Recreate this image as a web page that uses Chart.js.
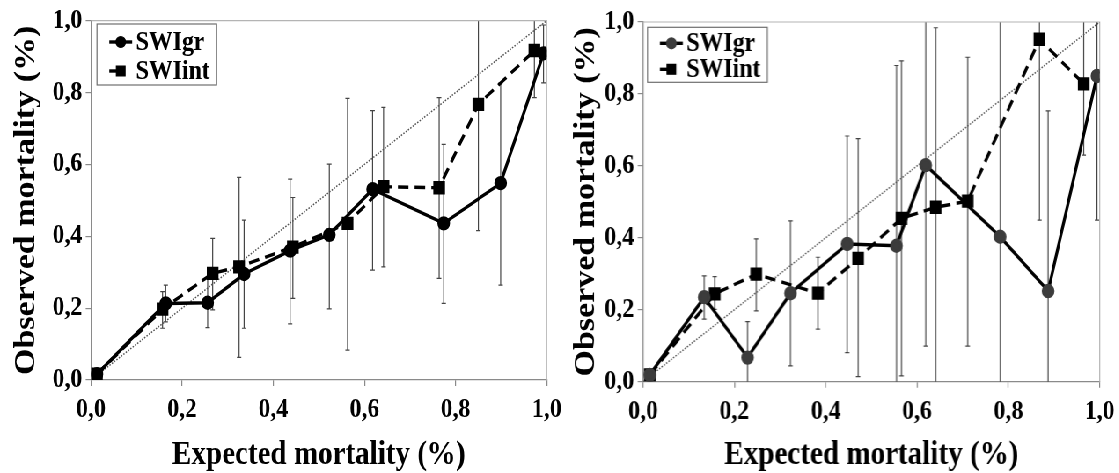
<!DOCTYPE html>
<html>
<head>
<meta charset="utf-8">
<script src="https://cdn.jsdelivr.net/npm/chart.js@4.4.1/dist/chart.umd.min.js"></script>
<style>
  html, body { margin: 0; padding: 0; background: #fff; overflow: hidden; }
  /* the figure is drawn wide and condensed horizontally as one piece */
  #stage { position: absolute; left: 0; top: 0; width: 1271.6px; height: 473px;
           transform: scaleX(0.88); transform-origin: 0 0; }
  .panel { position: absolute; top: 0; height: 473px; }
  #p1 { left: 0; width: 680px; }
  #p2 { left: 635.8px; width: 635.8px; }
</style>
</head>
<body>
<div id="stage">
  <div class="panel" id="p1"><canvas id="c1"></canvas></div>
  <div class="panel" id="p2"><canvas id="c2"></canvas></div>
</div>
<script>
// ---- shared labels ----
const seriesNames = ['SWIgr', 'SWIint'];
const tickLabels = ['0,0', '0,2', '0,4', '0,6', '0,8', '1,0'];
const xTitle = 'Expected mortality (%)';
const yTitle = 'Observed mortality (%)';
const identityLine = [0, 1];

// ---- left panel ----
const leftGrX    = [0.013, 0.164, 0.256, 0.336, 0.437, 0.523, 0.618, 0.774, 0.899, 0.993];
const leftGrY    = [0.016, 0.213, 0.215, 0.295, 0.360, 0.404, 0.531, 0.436, 0.548, 0.909];
const leftGrLow  = [null,  0.162, 0.146, 0.144, 0.156, 0.198, 0.306, 0.213, 0.264, 0.827];
const leftGrHigh = [null,  0.264, 0.284, 0.445, 0.559, 0.601, 0.750, 0.656, 0.827, 0.988];

const leftIntX    = [0.013, 0.157, 0.267, 0.325, 0.443, 0.563, 0.642, 0.764, 0.850, 0.973];
const leftIntY    = [0.016, 0.197, 0.297, 0.315, 0.370, 0.436, 0.538, 0.535, 0.767, 0.917];
const leftIntLow  = [null,  0.144, 0.195, 0.063, 0.227, 0.083, 0.315, 0.283, 0.416, 0.786];
const leftIntHigh = [null,  0.246, 0.394, 0.564, 0.508, 0.784, 0.759, 0.786, 1.118, 1.048];

// ---- right panel ----
const rightGrX    = [0.015, 0.134, 0.229, 0.323, 0.447, 0.555, 0.619, 0.782, 0.887, 0.994];
const rightGrY    = [0.019, 0.235, 0.067, 0.246, 0.383, 0.378, 0.602, 0.403, 0.252, 0.850];
const rightGrLow  = [null,  0.174, -0.033, 0.044, 0.081, -0.120, 0.099, -0.247, -0.250, 0.449];
const rightGrHigh = [null,  0.294, 0.167, 0.447, 0.683, 0.879, 1.105, 1.053, 0.753, 1.250];

const rightIntX    = [0.015, 0.157, 0.248, 0.383, 0.471, 0.566, 0.641, 0.711, 0.868, 0.965];
const rightIntY    = [0.019, 0.244, 0.299, 0.246, 0.343, 0.454, 0.485, 0.502, 0.952, 0.828];
const rightIntLow  = [null,  0.201, 0.197, 0.146, 0.014, 0.016, -0.015, 0.099, 0.449, 0.630];
const rightIntHigh = [null,  0.292, 0.397, 0.346, 0.676, 0.892, 0.984, 0.902, 1.455, 1.026];

const SERIF = "'Liberation Serif', 'Times New Roman', serif";

function pts(xs, ys) { return xs.map((x, i) => ({ x: x, y: ys[i] })); }

// vertical error bars, clipped to the plotting area
const errorBarPlugin = {
  id: 'errorBars',
  beforeDatasetsDraw(chart) {
    const { ctx, chartArea: a, scales: { x, y } } = chart;
    ctx.save();
    ctx.beginPath();
    ctx.rect(a.left - 3, a.top, a.right - a.left + 6, a.bottom - a.top);
    ctx.clip();
    ctx.strokeStyle = '#444';
    ctx.lineWidth = 1.2;
    chart.data.datasets.forEach(ds => {
      if (!ds.errLow) return;
      ds.data.forEach((p, i) => {
        const lo = ds.errLow[i], hi = ds.errHigh[i];
        if (lo == null || hi == null) return;
        const px = x.getPixelForValue(p.x);
        const yl = y.getPixelForValue(lo), yh = y.getPixelForValue(hi);
        ctx.beginPath();
        ctx.moveTo(px, yl); ctx.lineTo(px, yh);
        ctx.moveTo(px - 2.5, yl); ctx.lineTo(px + 2.5, yl);
        ctx.moveTo(px - 2.5, yh); ctx.lineTo(px + 2.5, yh);
        ctx.stroke();
      });
    });
    ctx.restore();
    // light frame on the top and right of the plotting area
    ctx.save();
    ctx.strokeStyle = '#b4b4b4';
    ctx.lineWidth = 1.2;
    ctx.beginPath();
    ctx.moveTo(a.left, a.top); ctx.lineTo(a.right, a.top); ctx.lineTo(a.right, a.bottom);
    ctx.stroke();
    ctx.restore();
  }
};

// boxed legend inside the plotting area: line sample, marker, label
const boxLegendPlugin = {
  id: 'boxLegend',
  afterDraw(chart, args, opts) {
    const { ctx, chartArea: a } = chart;
    const bx = a.left + opts.dx, by = a.top + opts.dy;
    ctx.save();
    ctx.fillStyle = '#fff';
    ctx.fillRect(bx, by, opts.w, opts.h);
    ctx.strokeStyle = '#6e6e6e';
    ctx.lineWidth = 1.2;
    ctx.strokeRect(bx, by, opts.w, opts.h);
    const sets = chart.data.datasets.filter(d => d.label);
    sets.forEach((ds, k) => {
      const cy = by + opts.rows[k];
      ctx.save();
      ctx.strokeStyle = ds.borderColor;
      ctx.lineWidth = ds.borderWidth;
      ctx.setLineDash(ds.legendDash || []);
      ctx.beginPath();
      ctx.moveTo(bx + opts.lineFrom, cy);
      ctx.lineTo(bx + opts.lineTo, cy);
      ctx.stroke();
      ctx.restore();
      ctx.save();
      ctx.fillStyle = ds.pointBackgroundColor;
      ctx.strokeStyle = ds.pointBorderColor;
      Chart.helpers.drawPoint(ctx, {
        pointStyle: ds.pointStyle, radius: ds.pointRadius, borderWidth: 1
      }, bx + opts.markX, cy);
      ctx.restore();
      ctx.fillStyle = '#000';
      ctx.font = 'bold ' + opts.fontSize + 'px ' + SERIF;
      ctx.textBaseline = 'middle';
      ctx.fillText(ds.label, bx + opts.textX, cy + 1);
    });
    ctx.restore();
  }
};

function makeChart(id, cfg) {
  const grColor = cfg.grMarker;
  const datasets = [
    {
      label: seriesNames[0],
      data: pts(cfg.grX, cfg.grY),
      errLow: cfg.grLow, errHigh: cfg.grHigh,
      borderColor: '#000', borderWidth: 3.4,
      pointStyle: 'circle', pointRadius: 5.5,
      pointBackgroundColor: grColor, pointBorderColor: grColor,
      order: 1
    },
    {
      label: seriesNames[1],
      data: pts(cfg.intX, cfg.intY),
      errLow: cfg.intLow, errHigh: cfg.intHigh,
      borderColor: '#000', borderWidth: 3.4, borderDash: [12, 7], legendDash: [9, 30],
      pointStyle: 'rect', pointRadius: 7,
      pointBackgroundColor: '#000', pointBorderColor: '#000',
      order: 2
    },
    {
      label: '',
      data: pts(identityLine, identityLine),
      borderColor: '#555', borderWidth: 1.5, borderDash: [1.6, 1.6],
      pointRadius: 0,
      order: 3
    }
  ];
  const axisFont = { family: SERIF, size: 27, weight: 'bold' };
  return new Chart(document.getElementById(id), {
    type: 'line',
    data: { datasets },
    plugins: [errorBarPlugin, boxLegendPlugin],
    options: {
      responsive: true,
      maintainAspectRatio: false,
      animation: false,
      devicePixelRatio: 1,
      layout: { padding: { left: 0, right: cfg.padRight, top: cfg.padTop, bottom: 0 } },
      elements: { line: { tension: 0 } },
      plugins: {
        legend: { display: false },
        tooltip: { enabled: false },
        boxLegend: cfg.legend
      },
      scales: {
        x: {
          type: 'linear', min: 0, max: 1,
          afterFit: s => { s.height = cfg.xHeight; s.paddingLeft = 0; s.paddingRight = 0; },
          ticks: {
            stepSize: 0.2, padding: 8, color: '#000', font: axisFont, maxRotation: 0,
            callback: (v, i) => tickLabels[i]
          },
          grid: { drawOnChartArea: false, drawTicks: true, tickLength: 6, color: '#8a8a8a', lineWidth: 1.2 },
          border: { display: true, color: '#8a8a8a', width: 1.3 },
          title: { display: true, text: xTitle, color: '#000',
                   font: { family: SERIF, size: 33, weight: 'bold' }, padding: { top: 0, bottom: -2 } }
        },
        y: {
          type: 'linear', min: 0, max: 1,
          afterFit: s => { s.width = cfg.yWidth; s.paddingTop = 0; s.paddingBottom = 0; },
          ticks: {
            stepSize: 0.2, padding: 4, color: '#000', font: axisFont,
            callback: (v, i) => tickLabels[i]
          },
          grid: { drawOnChartArea: false, drawTicks: true, tickLength: 6, color: '#8a8a8a', lineWidth: 1.2 },
          border: { display: true, color: '#8a8a8a', width: 1.3 },
          title: { display: true, text: yTitle, color: '#000',
                   font: { family: SERIF, size: 34, weight: 'bold' }, padding: { top: 10, bottom: 0 } }
        }
      }
    }
  });
}

makeChart('c1', {
  grX: leftGrX, grY: leftGrY, grLow: leftGrLow, grHigh: leftGrHigh,
  intX: leftIntX, intY: leftIntY, intLow: leftIntLow, intHigh: leftIntHigh,
  grMarker: '#000',
  yWidth: 103.4, xHeight: 93, padRight: 58.75, padTop: 20.7,
  legend: { dx: 6.8, dy: 3.3, w: 136, h: 61, rows: [18, 47], lineFrom: 14, lineTo: 40, markX: 27,
            textX: 44, fontSize: 27 }
});

makeChart('c2', {
  grX: rightGrX, grY: rightGrY, grLow: rightGrLow, grHigh: rightGrHigh,
  intX: rightIntX, intY: rightIntY, intLow: rightIntLow, intHigh: rightIntHigh,
  grMarker: '#3c3c3c',
  yWidth: 94.5, xHeight: 91.3, padRight: 23.1, padTop: 22,
  legend: { dx: 5.2, dy: 5.3, w: 136, h: 55, rows: [16, 42], lineFrom: 14, lineTo: 40, markX: 27,
            textX: 44, fontSize: 27 }
});
</script>
</body>
</html>
